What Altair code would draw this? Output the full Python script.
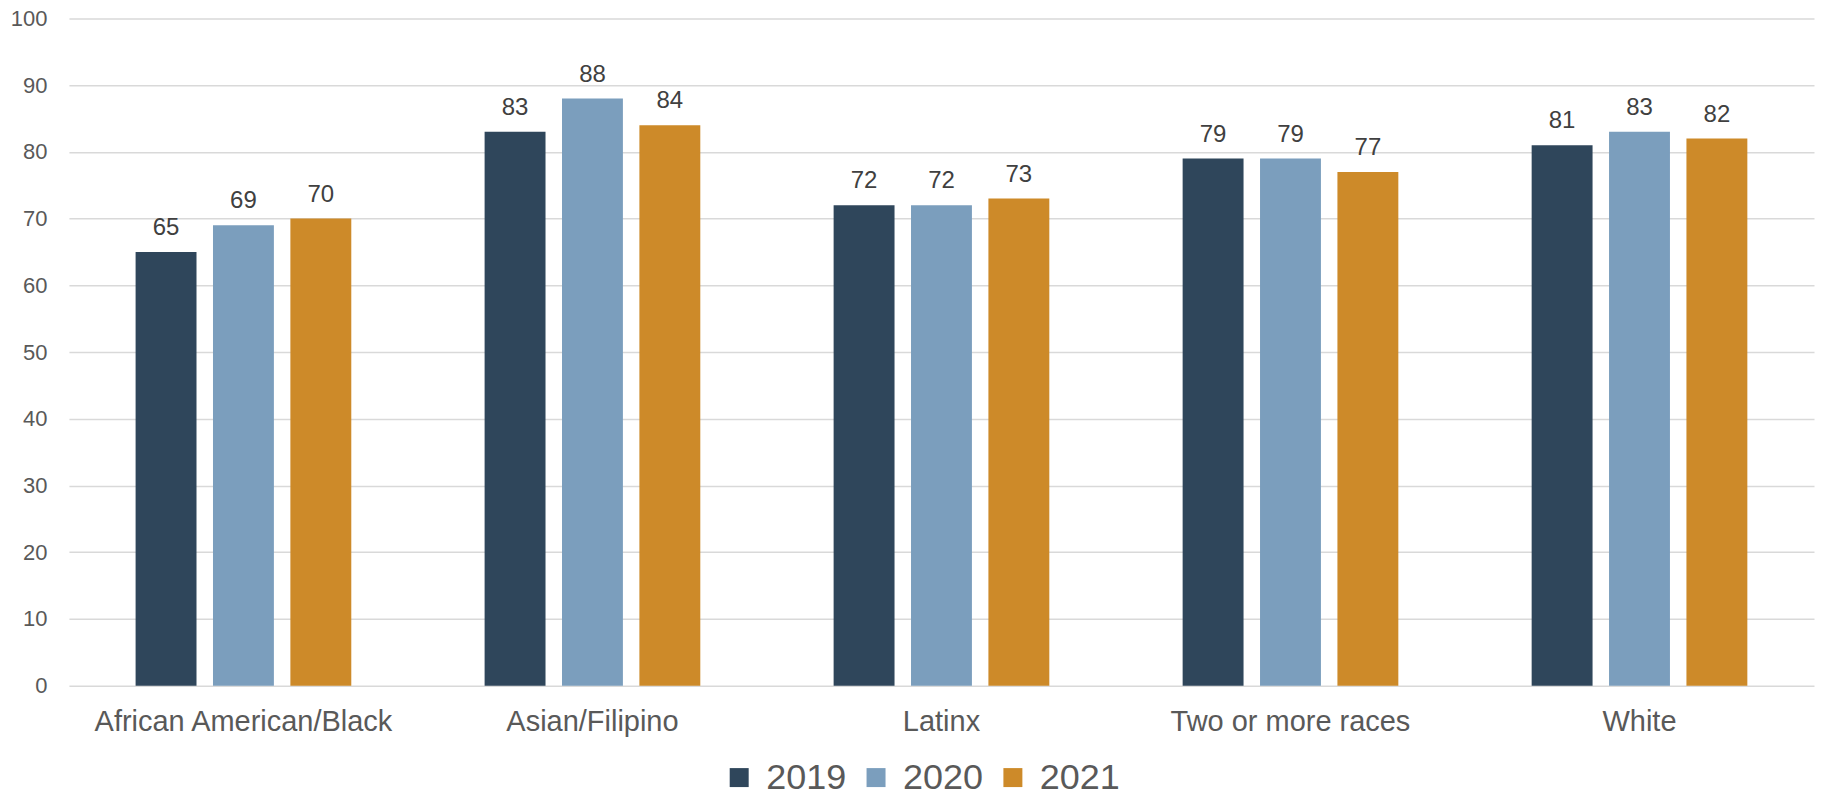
import altair as alt
import pandas as pd

groups = ["African American/Black", "Asian/Filipino", "Latinx", "Two or more races", "White"]
years = ["2019", "2020", "2021"]
v2019 = [65, 83, 72, 79, 81]
v2020 = [69, 88, 72, 79, 83]
v2021 = [70, 84, 73, 77, 82]
colors = ["#2F465B", "#7B9EBD", "#CD8A29"]
y_ticks = [0, 10, 20, 30, 40, 50, 60, 70, 80, 90, 100]

rows = []
for yr, vals in zip(years, [v2019, v2020, v2021]):
    for g, v in zip(groups, vals):
        rows.append({"group": g, "year": yr, "value": v})
df = pd.DataFrame(rows)

FONT = "Liberation Sans"

x = alt.X("group:N", sort=groups, title=None,
          scale=alt.Scale(paddingInner=0.382, paddingOuter=0.191),
          axis=alt.Axis(labelAngle=0, labelLimit=0, grid=False))
y = alt.Y("value:Q", title=None,
          scale=alt.Scale(domain=[0, 100], nice=False),
          axis=alt.Axis(values=y_ticks))
xo = alt.XOffset("year:N", sort=years, scale=alt.Scale(paddingInner=0.213, paddingOuter=0))

bars = alt.Chart(df).mark_bar().encode(
    x=x, y=y, xOffset=xo,
    color=alt.Color("year:N", sort=years,
                    scale=alt.Scale(domain=years, range=colors),
                    legend=alt.Legend(title=None, orient="none", direction="horizontal",
                                      legendX=653, legendY=742, padding=0,
                                      symbolType="square", symbolSize=361, symbolStrokeWidth=0,
                                      labelFontSize=36, labelColor="#595959", labelFont=FONT,
                                      labelOffset=9, columnPadding=11)),
)

labels = alt.Chart(df).mark_text(fontSize=24, color="#404040", font=FONT,
                                 baseline="alphabetic", dy=-17).encode(
    x=alt.X("group:N", sort=groups), y="value:Q", xOffset=xo, text="value:Q"
)

chart = (bars + labels).properties(
    width=1747, height=668,
    autosize=alt.AutoSizeParams(type="none"),
    padding={"left": 61, "top": 10, "right": 5, "bottom": 106},
).configure_view(stroke=None).configure_axisX(
    labelFontSize=29, labelColor="#595959", labelFont=FONT, labelLimit=0,
    ticks=False, tickSize=0, domain=False, labelPadding=22, grid=False
).configure_axisY(
    labelFontSize=22, labelColor="#595959", labelFont=FONT,
    ticks=False, tickSize=0, domain=False, labelPadding=22,
    gridColor="#D9D9D9", gridWidth=1.5
)

chart.save("out.html", embed_options={"renderer": "svg", "actions": False})
